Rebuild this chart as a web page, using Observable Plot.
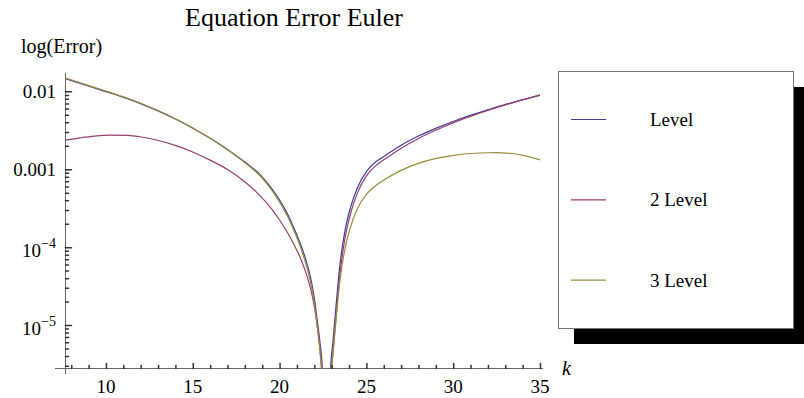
<!DOCTYPE html>
<html><head><meta charset="utf-8">
<script src="https://cdn.jsdelivr.net/npm/d3@7"></script>
<script src="https://cdn.jsdelivr.net/npm/@observablehq/plot@0.6"></script>
<style>body{margin:0;background:#fff}#chart{width:804px;height:398px}</style>
</head><body><div id="chart"></div>
<script>
// ---- data ----
const kValues = [7.64, 8.5, 9.3, 10.2, 11.2, 12, 13, 14, 15, 16, 17, 18, 18.9, 19.5, 20, 20.5, 20.8, 21.2, 21.5, 21.75, 21.95, 22.15, 22.3, 22.45,
  22.66,
  22.9, 23.05, 23.25, 23.45, 23.7, 24.05, 24.45, 25, 25.5, 26, 27, 28, 29, 30, 31, 32, 32.5, 33, 34, 35];
const levelValues = [0.01469, 0.01279, 0.01119, 0.009683, 0.008166, 0.0070, 0.005649, 0.004446, 0.003388, 0.002512, 0.001799, 0.001245, 0.0008414, 0.0005821, 0.0003981, 0.0002512, 0.0001778, 0.0001072, 6.761e-5, 4.169e-5, 2.399e-5, 1.122e-5, 6.026e-6, 2.399e-6,
  1e-8,
  2.512e-6, 6.31e-6, 2.089e-5, 6.095e-5, 1.479e-4, 3.236e-4, 5.821e-4, 9.661e-4, 1.259e-3, 1.493e-3, 2.08e-3, 2.723e-3, 3.42e-3, 4.188e-3, 5.023e-3, 5.916e-3, 6.397e-3, 6.887e-3, 7.943e-3, 9.057e-3];
const level2Values = [0.002404, 0.00257, 0.002704, 0.002786, 0.002754, 0.00263, 0.002371, 0.002042, 0.001679, 0.001318, 0.001, 0.0006918, 0.0004519, 0.0003162, 0.0002213, 0.0001462, 0.0001096, 7.079e-5, 4.677e-5, 3.02e-5, 1.862e-5, 9.55e-6, 4.786e-6, 1.413e-6,
  1e-8,
  1.778e-6, 4.467e-6, 1.514e-5, 4.571e-5, 1.175e-4, 2.692e-4, 5.012e-4, 8.511e-4, 1.122e-3, 1.349e-3, 1.905e-3, 2.541e-3, 3.236e-3, 4.027e-3, 4.875e-3, 5.808e-3, 6.31e-3, 6.823e-3, 7.925e-3, 9.162e-3];
const level3Values = [0.01503, 0.01306, 0.0114, 0.00984, 0.008279, 0.007079, 0.005702, 0.004477, 0.003404, 0.002512, 0.001778, 0.001216, 0.0008128, 0.0005559, 0.0003758, 0.0002344, 0.0001641, 9.772e-5, 6.026e-5, 3.631e-5, 2.042e-5, 9.333e-6, 4.677e-6, 1.585e-6,
  1e-8,
  1.778e-6, 4.467e-6, 1.413e-5, 3.802e-5, 8.71e-5, 1.82e-4, 3.162e-4, 4.898e-4, 6.237e-4, 7.413e-4, 9.886e-4, 1.216e-3, 1.396e-3, 1.531e-3, 1.614e-3, 1.652e-3, 1.656e-3, 1.637e-3, 1.531e-3, 1.33e-3];
const seriesNames = ["Level", "2 Level", "3 Level"];
const seriesColors = ["#3d3d99", "#993d71", "#998b3d"];
const xTicks = [10, 15, 20, 25, 30, 35];
const yTicks = [1e-2, 1e-3, 1e-4, 1e-5];
const yTickLabels = ["0.01", "0.001", "10^−4", "10^−5"];
const titleText = "Equation Error Euler";
const yLabelText = "log(Error)";
const xLabelText = "k";

// ---- build ----
const xDomain = [7.64, 35];
const yDomain = [2.81e-6, 0.01718];
const seriesValues = [levelValues, level2Values, level3Values];
const rows = [];
seriesNames.forEach((name, i) => kValues.forEach((k, j) => rows.push({series: name, k, v: seriesValues[i][j]})));
const xMinor = d3.range(8, 36).filter(d => !xTicks.includes(d));
const yMinor = [];
for (let e = -6; e <= -2; e++) for (let m = 2; m <= 9; m++) {
  const v = m * Math.pow(10, e);
  if (v >= yDomain[0] && v <= yDomain[1]) yMinor.push(v);
}
const axisColor = "#666";
const tickShape = {draw(context, l) { context.moveTo(0, 0); context.lineTo(0, -l); }};
const serif = "'Liberation Serif','Times New Roman',serif";

const chart = Plot.plot({
  width: 804, height: 398,
  marginLeft: 65, marginRight: 264, marginTop: 73, marginBottom: 30,
  x: {domain: xDomain, axis: null},
  y: {type: "log", domain: yDomain, axis: null},
  color: {domain: seriesNames, range: seriesColors},
  style: {background: "white", fontFamily: serif, overflow: "visible"},
  marks: [
    Plot.line(rows, {x: "k", y: "v", z: "series", stroke: "series", strokeWidth: 1.2, curve: "monotone-x", clip: true}),
    Plot.ruleX([xDomain[0]], {stroke: axisColor, insetBottom: -6}),
    Plot.ruleY([yDomain[0]], {stroke: axisColor, insetLeft: -10, insetRight: -3}),
    Plot.vector(xTicks, {x: d => d, y: () => yDomain[0], length: 5, rotate: 0, anchor: "start", shape: tickShape, stroke: "#333"}),
    Plot.vector(xMinor, {x: d => d, y: () => yDomain[0], length: 3, rotate: 0, anchor: "start", shape: tickShape, stroke: "#333"}),
    Plot.vector(yTicks, {x: () => xDomain[0], y: d => d, length: 6, rotate: 90, anchor: "start", shape: tickShape, stroke: "#333"}),
    Plot.vector(yMinor, {x: () => xDomain[0], y: d => d, length: 3, rotate: 90, anchor: "start", shape: tickShape, stroke: "#333"})
  ]
});
document.getElementById("chart").appendChild(chart);

const svg = d3.select(chart);
const X = chart.scale("x"), Y = chart.scale("y");
const g = svg.append("g").attr("font-family", serif).attr("fill", "black").attr("text-anchor", "start");
// title and axis labels
g.append("text").attr("x", 185).attr("y", 26).attr("font-size", 26).attr("text-anchor", "start").text(titleText);
g.append("text").attr("x", 21).attr("y", 53).attr("font-size", 20).attr("text-anchor", "start").text(yLabelText);
g.append("text").attr("x", 562).attr("y", 375).attr("font-size", 20).attr("font-style", "italic").attr("text-anchor", "start").text(xLabelText);
// x tick labels
xTicks.forEach(t => {
  g.append("text").attr("x", X.apply(t)).attr("y", Y.apply(yDomain[0]) + 25)
    .attr("text-anchor", "middle").attr("font-size", 19).text(String(t));
});
// y tick labels
yTicks.forEach((t, i) => {
  const lab = yTickLabels[i];
  const yy = Y.apply(t);
  const txt = g.append("text").attr("x", 56).attr("text-anchor", "end").attr("font-size", 19);
  if (lab.includes("^")) {
    const [b, e] = lab.split("^");
    txt.attr("y", yy + 10);
    txt.append("tspan").text(b);
    txt.append("tspan").attr("dy", -9).attr("font-size", 14).text(e);
  } else {
    txt.attr("y", yy + 6.5).text(lab);
  }
});
// legend
const lg = svg.append("g").attr("font-family", serif).attr("text-anchor", "start");
lg.append("rect").attr("x", 574).attr("y", 87).attr("width", 235).attr("height", 257).attr("fill", "black");
lg.append("rect").attr("x", 558.5).attr("y", 71.5).attr("width", 235).attr("height", 257).attr("fill", "white").attr("stroke", "#777");
seriesNames.forEach((name, i) => {
  const ly = 119.5 + i * 80.3;
  lg.append("line").attr("x1", 571).attr("x2", 606).attr("y1", ly).attr("y2", ly).attr("stroke", seriesColors[i]).attr("stroke-width", 1.2);
  lg.append("text").attr("x", 650).attr("y", ly + 6.5).attr("font-size", 19).attr("fill", "black").attr("text-anchor", "start").text(name);
});
</script>
</body></html>
